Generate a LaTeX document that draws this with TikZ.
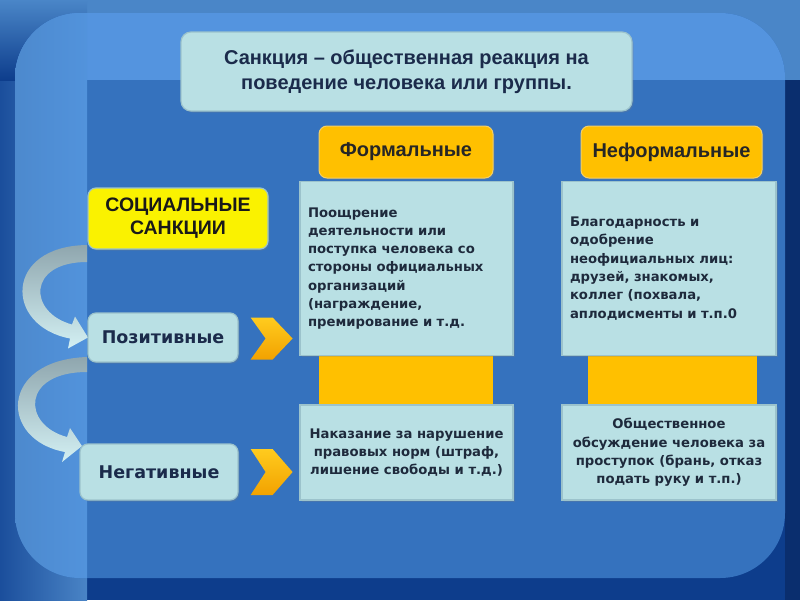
\documentclass[tikz,border=0pt]{standalone}
\usepackage{fontspec}
\setmainfont{Liberation Sans}
\newfontfamily\dvs{DejaVu Sans}
\usetikzlibrary{calc,shadows}
\definecolor{bgdark}{HTML}{0D3D8C}
\definecolor{rightdark}{HTML}{0A2E6E}
\definecolor{toplight}{HTML}{4A86C8}
\definecolor{panelband}{HTML}{5494DF}
\definecolor{panelmain}{HTML}{3572BE}
\definecolor{stripc}{HTML}{5293DC}
\definecolor{cyanc}{HTML}{B9E0E4}
\definecolor{cyanedge}{HTML}{9CC3CC}
\definecolor{orangec}{HTML}{FFC000}
\definecolor{orangeedge}{HTML}{F2CF6A}
\definecolor{yellowc}{HTML}{FAF200}
\definecolor{navy}{HTML}{1B2B4B}
\definecolor{bodyc}{HTML}{1E2A3C}
\definecolor{arrgray}{HTML}{8FA6AE}
\definecolor{arrlight}{HTML}{D3F0F3}
\definecolor{chevtop}{HTML}{FFCB1E}
\definecolor{chevbot}{HTML}{F2A200}
\tikzset{
  shade1/.style={drop shadow={opacity=0.25,shadow xshift=1.5pt,shadow yshift=-1.5pt}},
  titlebox/.style={rounded corners=10pt, fill=cyanc, draw=cyanedge, line width=1.2pt, shade1,
    text=navy, font=\bfseries\fontsize{20}{25}\selectfont, align=center},
  headbox/.style={rounded corners=8pt, fill=orangec, draw=orangeedge, line width=1pt, shade1,
    text=black!85, font=\bfseries\fontsize{20}{23}\selectfont, align=center},
  socbox/.style={rounded corners=8pt, fill=yellowc, draw=cyanedge, line width=1.2pt, shade1,
    text=black!90, font=\bfseries\fontsize{19.5}{23}\selectfont, align=center},
  kindbox/.style={rounded corners=8pt, fill=cyanc, draw=cyanedge, line width=1.2pt, shade1,
    text=navy, font=\dvs\bfseries\fontsize{17.5}{20}\selectfont, align=center},
  textbox/.style={fill=cyanc, draw=cyanedge, line width=1.2pt, shade1,
    text=bodyc, font=\dvs\bfseries\fontsize{13.2}{18.3}\selectfont, inner xsep=8pt},
  linkbar/.style={fill=orangec, draw=none},
  fatarrow/.style={top color=arrgray, bottom color=arrlight, draw=none},
  chevron/.style={top color=chevtop, bottom color=chevbot, draw=none}
}
\begin{document}
\begin{tikzpicture}[x=1pt,y=-1pt]
\useasboundingbox (0,0) rectangle (800,600);
% background
\fill[bgdark] (0,0) rectangle (800,600);
\fill[rightdark] (785,80) rectangle (800,600);
\fill[toplight] (0,0) rectangle (800,80);
\shade[left color=bgdark!80!stripc, right color=stripc!90!black] (0,80) rectangle (87,600);
\shade[top color=toplight, bottom color=bgdark] (0,0) rectangle (87,80);
\fill[panelmain, rounded corners=65pt] (15,13) rectangle (785,578);
\begin{scope}
  \clip[rounded corners=65pt] (15,13) rectangle (785,578);
  \fill[panelband] (0,0) rectangle (800,80);
  \shade[left color=stripc!92!black, right color=stripc] (0,0) rectangle (87,600);
\end{scope}

% nodes
\node[titlebox, minimum width=451pt, minimum height=79pt] (title) at (406.5,71.5)
  {Санкция – общественная реакция на\\поведение человека или группы.};
\node[headbox, minimum width=174pt, minimum height=52pt] (formal) at (406,152) {Формальные};
\node[headbox, minimum width=181pt, minimum height=52pt] (informal) at (671.5,152) {Неформальные};

\node[linkbar, minimum width=174pt, minimum height=52pt] (flink) at (406,380.5) {};
\node[linkbar, minimum width=169pt, minimum height=52pt] (ilink) at (672.5,380.5) {};

\node[textbox, text width=197pt, minimum height=174pt, align=left] (ftop) at (406.5,268.5)
  {Поощрение\\деятельности или\\поступка человека со\\стороны официальных\\организаций\\(награждение,\\премирование и т.д.};
\node[textbox, minimum width=213pt, minimum height=95pt, align=center] (fbot) at (406.5,452.5)
  {Наказание за нарушение\\правовых норм (штраф,\\лишение свободы и т.д.)};
\node[textbox, text width=198pt, minimum height=174pt, align=left] (itop) at (669,268.5)
  {Благодарность и\\одобрение\\неофициальных лиц:\\друзей, знакомых,\\коллег (похвала,\\аплодисменты и т.п.0};
\node[textbox, minimum width=214pt, minimum height=95pt, align=center] (ibot) at (669,452.5)
  {Общественное\\обсуждение человека за\\проступок (брань, отказ\\подать руку и т.п.)};

% curved arrows
\coordinate (A1) at (87,249);
\coordinate (T1) at (88,337.5);
\shade[fatarrow] ($(A1)+(0,-4)$) .. controls ($(A1)+(-83,-3)$) and ($(A1)+(-83,77)$) .. ($(T1)+(-18,1)$)
  -- ($(T1)+(-20,11)$) -- (T1) -- ($(T1)+(-13,-21)$) -- ($(T1)+(-16,-13)$)
  .. controls ($(T1)+(-60,-25)$) and ($(A1)+(-60,13)$) .. ($(A1)+(0,13)$) -- cycle;
\coordinate (A2) at (87,362);
\coordinate (T2) at (82,446);
\shade[fatarrow] ($(A2)+(0,-5)$) .. controls ($(A2)+(-88,-2)$) and ($(A2)+(-88,78)$) .. ($(T2)+(-17,6)$)
  -- ($(T2)+(-20,16)$) -- (T2) -- ($(T2)+(-12,-18)$) -- ($(T2)+(-15,-9)$)
  .. controls ($(T2)+(-60,-21)$) and ($(A2)+(-66,10)$) .. ($(A2)+(0,10)$) -- cycle;

\node[socbox, minimum width=180pt, minimum height=61pt] (soc) at (178,218.5) {СОЦИАЛЬНЫЕ\\САНКЦИИ};
\node[kindbox, minimum width=150pt, minimum height=49pt] (pos) at (163,337.5) {Позитивные};
\node[kindbox, minimum width=158pt, minimum height=56pt] (neg) at (159,472) {Негативные};

% chevrons
\coordinate (C1) at ($(pos.east)+(12,0)$);
\shade[chevron] ($(C1)+(0,-20)$) -- ($(C1)+(22,-20)$) -- ($(C1)+(42,1)$) -- ($(C1)+(22,22)$)
  -- ($(C1)+(0,22)$) -- ($(C1)+(15,1)$) -- cycle;
\coordinate (C2) at ($(neg.east)+(12,0)$);
\shade[chevron] ($(C2)+(0,-23)$) -- ($(C2)+(22,-23)$) -- ($(C2)+(42,0)$) -- ($(C2)+(22,23)$)
  -- ($(C2)+(0,23)$) -- ($(C2)+(15,0)$) -- cycle;
\end{tikzpicture}
\end{document}
